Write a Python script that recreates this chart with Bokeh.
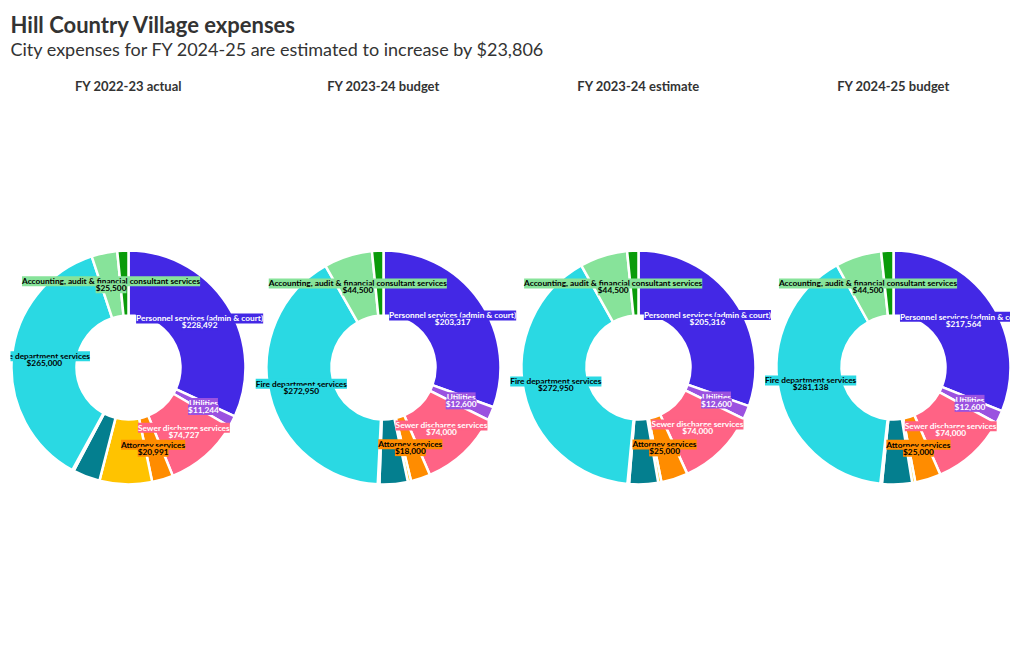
import math
from bokeh.plotting import figure
from bokeh.models import Range1d, ColumnDataSource
from bokeh.core.properties import value
from bokeh.embed import file_html
from bokeh.resources import INLINE

title_text = "Hill Country Village expenses"
subtitle_text = "City expenses for FY 2024-25 are estimated to increase by $23,806"

panel_titles = ["FY 2022-23 actual", "FY 2023-24 budget", "FY 2023-24 estimate", "FY 2024-25 budget"]

categories = [
    "Personnel services (admin & court)",
    "Utilities",
    "Sewer discharge services",
    "Attorney services",
    "Other expense A",
    "Other expense B",
    "Other expense C",
    "Fire department services",
    "Accounting, audit & financial consultant services",
    "Other expense D",
]
labeled = [True, True, True, True, False, False, False, True, True, False]

fy2223_actual = [228492, 11244, 74727, 20991, 52000, 27000, 1500, 265000, 25500, 11000]
fy2324_budget = [203317, 12600, 74000, 18000, 3000, 26000, 1500, 272950, 44500, 10500]
fy2324_estimate = [205316, 12600, 74000, 25000, 3000, 27000, 1500, 272950, 44500, 10500]
fy2425_budget = [217564, 12600, 74000, 25000, 3000, 29000, 1500, 281138, 44500, 11870]
panels = [fy2223_actual, fy2324_budget, fy2324_estimate, fy2425_budget]

colors = ["#4328E5", "#9B52E0", "#FF6385", "#FF8C00", "#FFC300",
          "#047F8F", "#2AD9E3", "#2AD9E3", "#87E39A", "#0A9B0A"]
text_colors = ["#ffffff", "#ffffff", "#ffffff", "#000000", "#000000",
               "#000000", "#000000", "#000000", "#000000", "#000000"]

W, H = 1010, 640
LEFT = 10
PAGE_H = 650
FONT = "Lato"

p = figure(width=W, height=H, x_range=Range1d(LEFT, W), y_range=Range1d(PAGE_H - H, PAGE_H),
           output_backend="svg", toolbar_location=None, min_border=0, min_border_left=LEFT,
           x_axis_type=None, y_axis_type=None)
p.grid.visible = False
p.outline_line_color = None
p.background_fill_color = "white"

centers_x = [128, 383, 638, 893]
center_y_page = 367
r_out, r_in = 117, 52
r_lab = (r_out + r_in) / 2

wx, wy, ws, we, wc = [], [], [], [], []
lx, ly, lname, lval, lbg, ltc = [], [], [], [], [], []
for cx, vals in zip(centers_x, panels):
    total = float(sum(vals))
    cy = PAGE_H - center_y_page
    acc = 0.0
    for i, v in enumerate(vals):
        a0 = acc / total * 2 * math.pi
        acc += v
        a1 = acc / total * 2 * math.pi
        wx.append(cx); wy.append(cy)
        ws.append(math.pi / 2 - a1); we.append(math.pi / 2 - a0)
        wc.append(colors[i])
        if labeled[i]:
            am = (a0 + a1) / 2
            lx.append(cx + r_lab * math.sin(am))
            ly.append(cy + r_lab * math.cos(am))
            lname.append(categories[i])
            lval.append("${:,}".format(v))
            lbg.append(colors[i])
            ltc.append(text_colors[i])

wsrc = ColumnDataSource(dict(x=wx, y=wy, start=ws, end=we, color=wc))
p.annular_wedge(x="x", y="y", inner_radius=r_in, outer_radius=r_out, start_angle="start",
                end_angle="end", direction="anticlock", fill_color="color",
                line_color="white", line_width=2.5, source=wsrc)

lsrc = ColumnDataSource(dict(x=lx, y=ly, name=lname, val=lval, bg=lbg, tc=ltc))
p.text(x="x", y="y", text="name", source=lsrc, text_font=value(FONT), text_font_style="bold",
       text_font_size="8.3px", text_color="tc", text_align="center", text_baseline="middle",
       y_offset=-3.5, background_fill_color="bg")
p.text(x="x", y="y", text="val", source=lsrc, text_font=value(FONT), text_font_style="bold",
       text_font_size="8.3px", text_color="tc", text_align="center", text_baseline="middle",
       y_offset=3.5, background_fill_color="bg")

# panel titles
tsrc = ColumnDataSource(dict(x=centers_x, y=[PAGE_H - 85] * 4, t=panel_titles))
p.text(x="x", y="y", text="t", source=tsrc, text_font=value(FONT), text_font_style="bold",
       text_font_size="13px", text_color="#333333", text_align="center", text_baseline="middle")

# main title and subtitle
p.text(x=[LEFT], y=[PAGE_H - 24], text=[title_text], text_font=value(FONT), text_font_style="bold",
       text_font_size="22px", text_color="#333333", text_align="left", text_baseline="middle")
p.text(x=[LEFT], y=[PAGE_H - 48], text=[subtitle_text], text_font=value(FONT),
       text_font_size="18px", text_color="#333333", text_align="left", text_baseline="middle")

open("out.html", "w").write(file_html(p, INLINE))
